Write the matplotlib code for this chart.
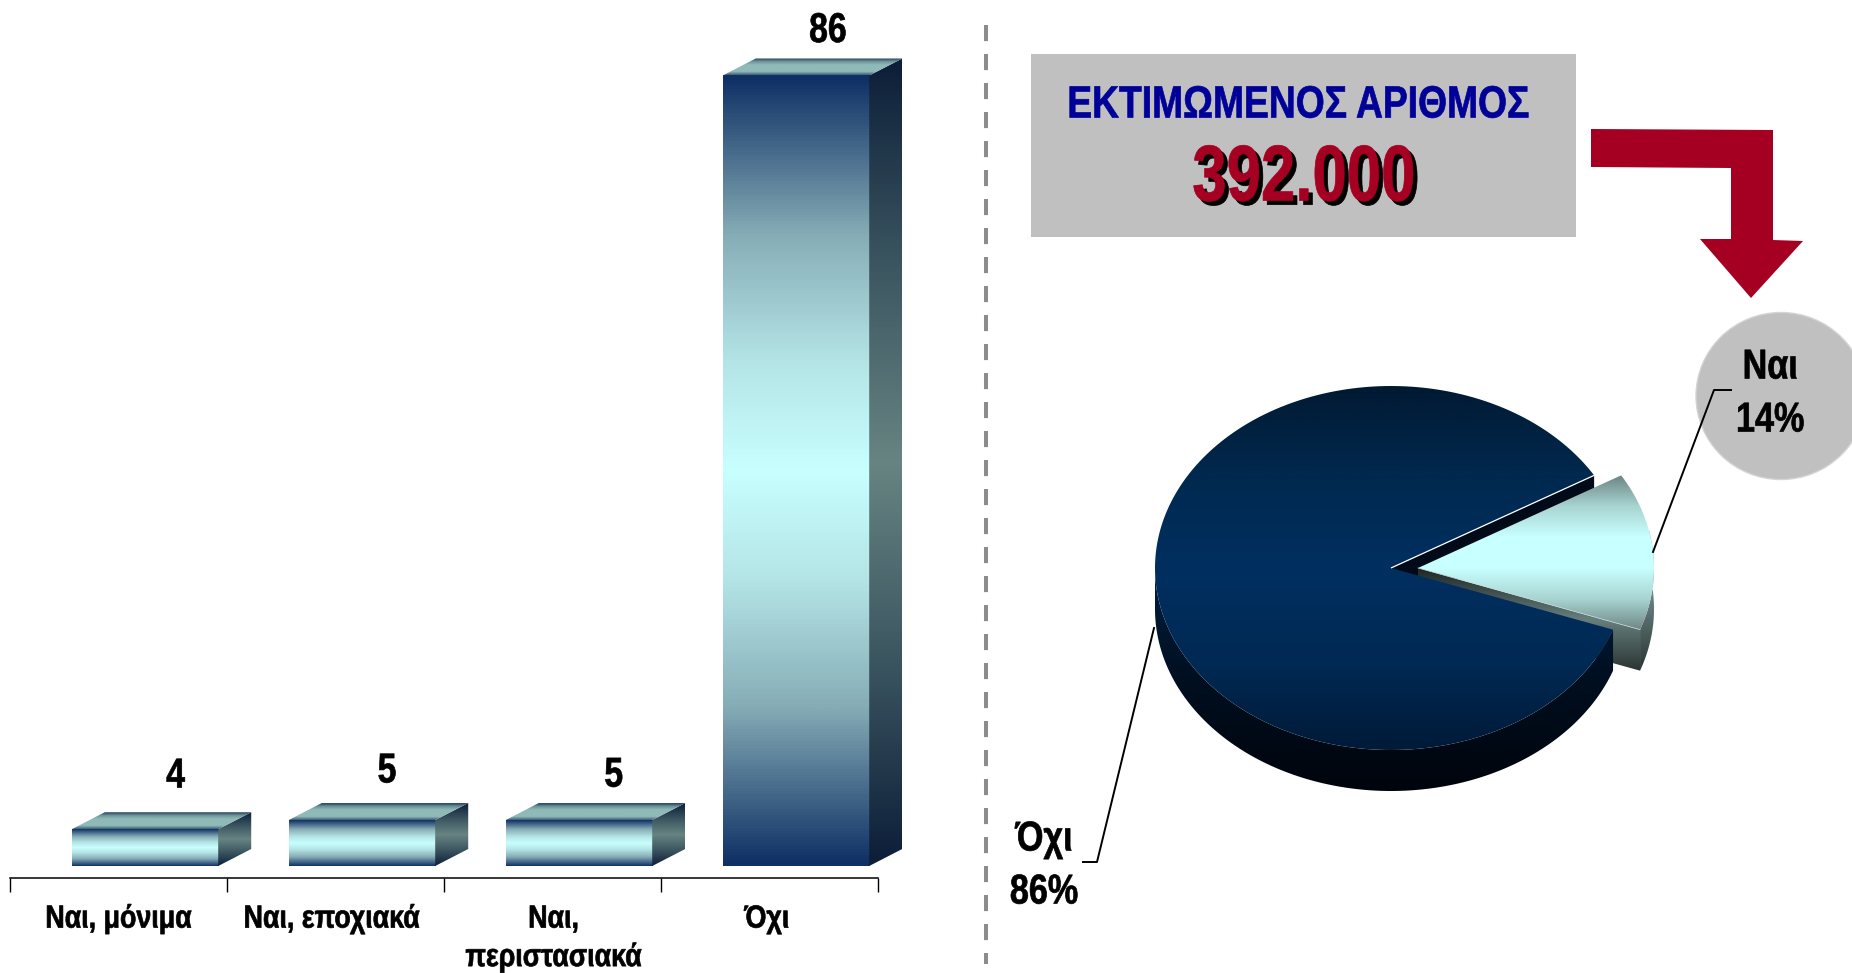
"""
Bar chart + exploded 3D pie, Greek labels
"""

import numpy as np
import matplotlib
matplotlib.use('Agg')
import matplotlib.pyplot as plt
import matplotlib.patheffects as pe
from matplotlib.colors import LinearSegmentedColormap, to_rgba
from matplotlib.patches import Polygon, Ellipse
from matplotlib.transforms import Affine2D

plt.rcParams['font.family'] = ['Liberation Sans', 'DejaVu Sans']
plt.rcParams['font.weight'] = 'bold'

# data
categories = ['Ναι, μόνιμα', 'Ναι, εποχιακά', 'Ναι,\nπεριστασιακά', 'Όχι']
values = [4, 5, 5, 86]
pie_labels = ['Ναι\n14%', 'Όχι\n86%']
pie_shares = [14, 86]
box_title = 'ΕΚΤΙΜΩΜΕΝΟΣ ΑΡΙΘΜΟΣ'
box_value = '392.000'

W, H = 1852, 973

NAVY = '#0F3065'
CYAN = '#C8FFFF'


class Narrow(pe.AbstractPathEffect):
    """Squeeze a text line in x around its own centre (no narrow font installed)"""

    def __init__(self, sx, offset=(0, 0), color=None, stroke=0.5):
        super().__init__(offset)
        self.sx = sx
        self.color = color
        self.stroke = stroke

    def draw_path(self, renderer, gc, tpath, affine, rgbFace=None):
        ext = affine.transform_path(tpath).get_extents()
        cx = (ext.x0 + ext.x1) / 2
        squeeze = Affine2D().translate(-cx, 0).scale(self.sx, 1).translate(cx, 0)
        face = rgbFace if self.color is None else to_rgba(self.color)
        gc0 = renderer.new_gc()
        gc0.copy_properties(gc)
        gc0.set_linewidth(self.stroke)
        gc0.set_foreground(face)
        renderer.draw_path(gc0, tpath, affine + squeeze + self._offset_transform(renderer), face)
        gc0.restore()


def gradient_fill(ax, verts, stops, clip=None):
    """Vertical gradient clipped to a polygon, stops go from low y to high y"""
    verts = np.asarray(verts)
    cmap = LinearSegmentedColormap.from_list('g', stops)
    grad = np.linspace(0, 1, 256).reshape(-1, 1)
    extent = [verts[:, 0].min(), verts[:, 0].max(), verts[:, 1].min(), verts[:, 1].max()]
    im = ax.imshow(grad, cmap=cmap, extent=extent, origin='lower', aspect='auto',
                   interpolation='bilinear', vmin=0, vmax=1)
    if clip is None:
        clip = Polygon(verts, closed=True, transform=ax.transData)
        im.set_clip_path(clip)
        im.set_clip_box(ax.figure.bbox)
    else:
        im.set_clip_path(clip)
    return im


fig = plt.figure(figsize=(W / 100, H / 100), dpi=100, facecolor='white')

# overlay in pixel coordinates for the decoration
ax0 = fig.add_axes([0, 0, 1, 1])
ax0.set_xlim(0, W)
ax0.set_ylim(H, 0)
ax0.axis('off')

ax0.plot([986, 986], [25, 964], color='#8C8C8C', lw=2.9, dashes=(4, 3.2), dash_capstyle='butt')

ax0.add_patch(plt.Rectangle((1031, 54), 545, 183, fc='#C0C0C0', ec='none'))
ax0.text(1298, 106, box_title, color='#000099', fontsize=32.5, ha='center', va='center',
         path_effects=[Narrow(0.825)])
ax0.text(1304, 180, box_value, color='#A50021', fontsize=57, ha='center', va='center',
         path_effects=[Narrow(0.78, offset=(3, -3), color='black'), Narrow(0.78)])

arrow = [(1591, 129), (1773, 130), (1773, 240), (1803, 241), (1751, 298),
         (1700, 239), (1731, 239), (1731, 168), (1591, 167)]
ax0.add_patch(Polygon(arrow, closed=True, fc='#A50021', ec='none'))

ax0.add_patch(Ellipse((1781, 396), 170, 167, fc='#C0C0C0', ec='#D4D4D4', lw=1))

# bars
ax = fig.add_axes([10 / W, 1 - 877.5 / H, 868 / W, 877.5 / H])
ax.patch.set_alpha(0)
px_per_value = (866 - 75.5) / 86
ax.set_xlim(-0.5, 3.5)
ax.set_ylim(-11.5 / px_per_value, 866 / px_per_value)
ax.set_autoscale_on(False)

x = np.arange(len(categories))
bar_shift = 0.122
bar_width = 0.675
depth_x = 33 / 217
depth_y = 17 / px_per_value
label_dx = [22, 18, 25, 23]
label_dy = [38, 35, 32, 32]
tick_shift = [0, -0.018, 0.005, -0.012]

front_stops = [(0, NAVY), (0.2, '#86ADB6'), (0.36, '#B4E4E6'), (0.5, CYAN),
               (0.64, '#B4E4E6'), (0.8, '#86ADB6'), (1, NAVY)]

rects = ax.bar(x + bar_shift, values, bar_width, color='none', edgecolor='none')
for i, (rect, v) in enumerate(zip(rects, values)):
    x0 = rect.get_x()
    x1 = x0 + bar_width
    gradient_fill(ax, [(x0, 0), (x1, 0), (x1, v), (x0, v)], front_stops, clip=rect)
    side = [(x1, 0), (x1 + depth_x, depth_y), (x1 + depth_x, v + depth_y), (x1, v)]
    gradient_fill(ax, side, ['#0C1E38', '#3B5560', '#678482', '#3B5560', '#0C1E38'])
    top = [(x0, v), (x1, v), (x1 + depth_x, v + depth_y), (x0 + depth_x, v + depth_y)]
    gradient_fill(ax, top, ['#3A5A70', '#8FBAB8', '#8FBAB8', '#8FBAB8', '#6E9598', '#1E3A5A'])
    ax.annotate(str(v), (x0 + bar_width / 2, v), xytext=(label_dx[i], label_dy[i]),
                textcoords='offset points', ha='center', va='center', fontsize=30,
                path_effects=[Narrow(0.81)])

for s in ['top', 'left', 'right']:
    ax.spines[s].set_visible(False)
ax.spines['bottom'].set_linewidth(1.1)
ax.set_yticks([])
ax.set_xticks(np.arange(-0.5, 4, 1))
ax.set_xticklabels([])
ax.tick_params(axis='x', which='major', length=10, width=1)
ax.set_xticks(x + np.array(tick_shift), categories, minor=True)
ax.tick_params(axis='x', which='minor', length=0, pad=19.5, labelsize=23)
for t in ax.get_xticklabels(minor=True):
    t.set_linespacing(1.37)
    t.set_path_effects([Narrow(0.84)])

# pie: x unit = 236 px, y unit = 182 px, centre at (1391, 568)
pie_left, pie_right, pie_top, pie_bottom = 1120, 1700, 360, 810
ax_pie = fig.add_axes([pie_left / W, 1 - pie_bottom / H,
                       (pie_right - pie_left) / W, (pie_bottom - pie_top) / H])
ax_pie.set_xlim((pie_left - 1391) / 236, (pie_right - 1391) / 236)
ax_pie.set_ylim((568 - pie_bottom) / 182, (568 - pie_top) / 182)
ax_pie.set_autoscale_on(False)
ax_pie.axis('off')

depth = 41 / 182
explode = 27 / 236
start = -19.8
end = start + 360 * pie_shares[0] / sum(pie_shares)


def arc(a0, a1, cx=0.0, dy=0.0):
    t = np.radians(np.linspace(a0, a1, 200))
    return np.column_stack([cx + np.cos(t), np.sin(t) + dy])


p_upper = arc(end, end)[0]

# wall of the big slice behind the gap
wall = [(0, 0), p_upper, p_upper - (0, depth), (0, -depth)]
ax_pie.add_patch(Polygon(wall, closed=True, fc='#000A18', ec='none', zorder=0))

# exploded slice
slice_low = arc(start, start, cx=explode)[0]
slice_wall = [(explode, 0), slice_low, slice_low - (0, depth), (explode, -depth)]
gradient_fill(ax_pie, slice_wall, ['#2A3432', '#667F7D', '#1E2625'])
rim_top = arc(start, 12, cx=explode)
slice_rim = np.vstack([rim_top, rim_top[::-1] - (0, depth)])
gradient_fill(ax_pie, slice_rim, ['#2A3432', '#667F7D', '#8AA5A3'])
slice_face = np.vstack([[(explode, 0)], arc(start, end, cx=explode)])
gradient_fill(ax_pie, slice_face, ['#6E8785', '#A8D4D2', CYAN, CYAN, '#A8D4D2', '#6B8583'])
ax_pie.plot([explode, slice_low[0]], [0, slice_low[1]], color='#C8DCDC', lw=0.5, zorder=0)

# big slice, rim then face
rim_edge = arc(180, 360 + start)
main_rim = np.vstack([rim_edge, rim_edge[::-1] - (0, depth)])
gradient_fill(ax_pie, main_rim, ['#00040C', '#000F20', '#001F3F'])
main_face = np.vstack([[(0, 0)], arc(end, 360 + start)])
gradient_fill(ax_pie, main_face, ['#001A38', '#012A55', '#002F60', '#01294F', '#011A33'])
ax_pie.plot([0, p_upper[0]], [0, p_upper[1]], color='white', lw=0.9, solid_capstyle='butt')

# pie labels and leaders, on top of everything
ax1 = fig.add_axes([0, 0, 1, 1])
ax1.patch.set_alpha(0)
ax1.set_xlim(0, W)
ax1.set_ylim(H, 0)
ax1.axis('off')
ax1.plot([1653, 1714, 1731], [552, 390, 390], color='black', lw=1.4)
ax1.plot([1154, 1097, 1083], [628, 862, 862], color='black', lw=1.4)
ax1.text(1770, 394, pie_labels[0], fontsize=30, ha='center', va='center', linespacing=1.42,
         path_effects=[Narrow(0.82)])
ax1.text(1044, 866, pie_labels[1], fontsize=30, ha='center', va='center', linespacing=1.42,
         path_effects=[Narrow(0.82)])

plt.savefig('out.png', dpi=100, facecolor='white')
